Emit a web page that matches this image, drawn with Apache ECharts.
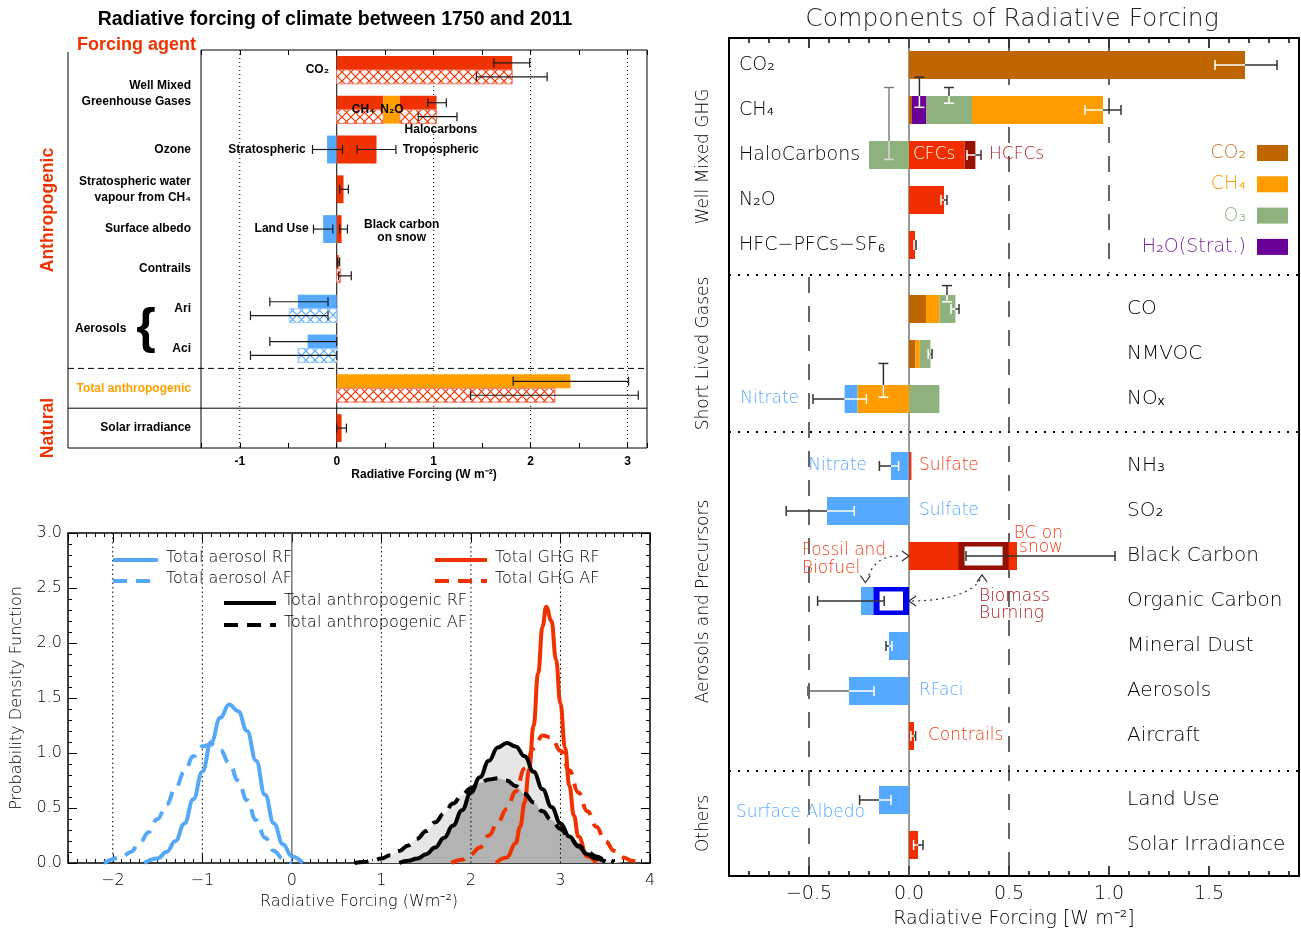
<!DOCTYPE html>
<html>
<head>
<meta charset="utf-8">
<script src="https://cdn.jsdelivr.net/npm/echarts/dist/echarts.min.js"></script>
<style>
html,body{margin:0;padding:0;background:#fff;}
#chart{width:1301px;height:933px;}
</style>
</head>
<body>
<div id="chart"></div>
<script>
// ================= Panel A : RF / ERF bars (1750-2011) =================
const aRows = ['CO2', 'WMGHG', 'Ozone', 'StratH2O', 'SurfaceAlbedo', 'Contrails', 'Ari', 'Aci', 'TotalAnthropogenic', 'Solar'];
const aDottedLines = [-1, 1, 2, 3];
const aZeroLine = [0];
// [row, start, end, fill]
const aRF = [
  [0, 0, 1.81, 'red'],
  [1, 0, 0.48, 'red'], [1, 0.48, 0.65, 'orange'], [1, 0.65, 1.03, 'red'],
  [5, 0, 0.02, 'red'],
  [6, -0.40, 0, 'blue'],
  [7, -0.30, 0, 'blue'],
  [8, 0, 2.41, 'orange']
];
const aERF = [
  [0, 0, 1.81, 'hatchRed'],
  [1, 0, 0.48, 'hatchRed'], [1, 0.48, 0.65, 'orange'], [1, 0.65, 1.03, 'hatchRed'],
  [5, 0, 0.04, 'hatchRed'],
  [6, -0.49, 0, 'hatchBlue'],
  [7, -0.40, 0, 'hatchBlue'],
  [8, 0, 2.25, 'hatchRed']
];
const aSingle = [
  [2, -0.10, 0, 'blue'], [2, 0, 0.41, 'red'],
  [3, 0, 0.07, 'red'],
  [4, -0.14, 0, 'blue'], [4, 0, 0.05, 'red'],
  [9, 0, 0.05, 'red']
];
// [row, low, high]
const aRFErr = [[0, 1.62, 1.99], [1, 0.94, 1.13], [5, 0.01, 0.03], [6, -0.69, -0.09], [7, -0.69, 0.0], [8, 1.82, 3.01]];
const aERFErr = [[0, 1.44, 2.17], [1, 0.84, 1.24], [5, 0.02, 0.15], [6, -0.89, -0.09], [7, -0.89, 0.0], [8, 1.38, 3.11]];
const aSingleErr = [[2, -0.25, 0.06], [2, 0.21, 0.61], [3, 0.03, 0.12], [4, -0.24, -0.04], [4, 0.03, 0.11], [9, 0.0, 0.10]];
const aLeftLabels = [
  [0.6, 'Well Mixed\nGreenhouse Gases', '#000'],
  [2, 'Ozone', '#000'],
  [3, 'Stratospheric water\nvapour from CH\u2084', '#000'],
  [4, 'Surface albedo', '#000'],
  [5, 'Contrails', '#000'],
  [6, 'Ari', '#000'],
  [7, 'Aci', '#000'],
  [8, 'Total anthropogenic', '#FFA000'],
  [9, 'Solar irradiance', '#000']
];
const aNotes = [
  [-0.08, 0, 'CO\u2082', 'right'],
  [0.155, 1, 'CH\u2084', 'left'],
  [0.45, 1, 'N\u2082O', 'left'],
  [0.70, 1.5, 'Halocarbons', 'left'],
  [-0.32, 2, 'Stratospheric', 'right'],
  [0.68, 2, 'Tropospheric', 'left'],
  [-0.29, 4, 'Land Use', 'right'],
  [0.67, 4.05, 'Black carbon\non snow', 'center']
];

// ================= Panel B : probability density functions =================
const bDottedLines = [-2, -1, 1, 2, 3];
const bZeroLine = [0];
const bAerosolRF = [[-1.65,0],[-1.5,0.04],[-1.4,0.10],[-1.3,0.20],[-1.2,0.36],[-1.1,0.58],[-1.0,0.83],[-0.9,1.10],[-0.8,1.32],[-0.7,1.44],[-0.6,1.38],[-0.5,1.20],[-0.4,0.93],[-0.3,0.62],[-0.2,0.36],[-0.1,0.17],[0.0,0.06],[0.12,0]];
const bAerosolAF = [[-2.1,0],[-1.9,0.05],[-1.8,0.10],[-1.7,0.18],[-1.6,0.28],[-1.5,0.40],[-1.4,0.53],[-1.3,0.68],[-1.2,0.83],[-1.1,0.97],[-1.0,1.06],[-0.9,1.08],[-0.8,1.03],[-0.7,0.91],[-0.6,0.75],[-0.5,0.57],[-0.4,0.39],[-0.3,0.23],[-0.2,0.11],[-0.1,0.04],[0.0,0.0]];
const bGhgRF = [[2.28,0],[2.4,0.05],[2.5,0.18],[2.55,0.33],[2.6,0.55],[2.65,0.85],[2.7,1.25],[2.75,1.72],[2.8,2.15],[2.84,2.33],[2.9,2.2],[2.95,1.85],[3.0,1.45],[3.05,1.05],[3.1,0.70],[3.15,0.43],[3.2,0.24],[3.3,0.06],[3.4,0]];
const bGhgAF = [[1.78,0],[1.9,0.03],[2.0,0.08],[2.1,0.14],[2.2,0.25],[2.3,0.37],[2.4,0.49],[2.5,0.65],[2.6,0.86],[2.7,1.04],[2.8,1.16],[2.9,1.14],[3.0,1.02],[3.1,0.84],[3.2,0.64],[3.3,0.47],[3.4,0.33],[3.5,0.20],[3.6,0.11],[3.7,0.05],[3.8,0.02],[3.87,0]];
const bAnthroX  = [0.6,0.7,0.8,0.9,1.0,1.1,1.2,1.3,1.4,1.5,1.6,1.7,1.8,1.9,2.0,2.1,2.2,2.3,2.4,2.5,2.6,2.7,2.8,2.9,3.0,3.1,3.2,3.3,3.4,3.5,3.6,3.7];
const bAnthroRF = [null,null,null,null,null,null,0.0,0.02,0.04,0.08,0.14,0.23,0.34,0.48,0.64,0.78,0.93,1.05,1.09,1.06,0.97,0.83,0.67,0.51,0.36,0.24,0.15,0.08,0.04,0.01,null,null];
const bAnthroAF = [null,0.0,0.01,0.02,0.04,0.07,0.11,0.16,0.22,0.29,0.37,0.45,0.54,0.62,0.68,0.73,0.76,0.77,0.75,0.70,0.63,0.55,0.47,0.39,0.31,0.23,0.16,0.10,0.06,0.03,0.01,null];
const bLegend = [
  ['Total aerosol RF', 'blue', false], ['Total aerosol AF', 'blue', true],
  ['Total GHG RF', 'red', false], ['Total GHG AF', 'red', true],
  ['Total anthropogenic RF', 'black', false], ['Total anthropogenic AF', 'black', true]
];

// ================= Panel C : components of radiative forcing =================
const cRowsGHG = ['CO\u2082', 'CH\u2084', 'HaloCarbons', 'N\u2082O', 'HFC\u2212PFCs\u2212SF\u2086'];
const cRowsSLG = ['CO', 'NMVOC', 'NO\u2093'];
const cRowsAer = ['NH\u2083', 'SO\u2082', 'Black Carbon', 'Organic Carbon', 'Mineral Dust', 'Aerosols', 'Aircraft'];
const cRowsOth = ['Land Use', 'Solar Irradiance'];
const cSectionNames = ['Well Mixed GHG', 'Short Lived Gases', 'Aerosols and Precursors', 'Others'];
// [row, start, end, component]
const cSegGHG = [
  [0, 0, 1.68, 'co2'],
  [1, 0, 0.015, 'co2'], [1, 0.015, 0.087, 'h2o'], [1, 0.087, 0.315, 'o3'], [1, 0.315, 0.97, 'ch4'],
  [2, -0.20, 0, 'o3'], [2, 0, 0.278, 'red'], [2, 0.278, 0.332, 'darkred'],
  [3, 0, 0.175, 'red'],
  [4, 0, 0.03, 'red']
];
const cSegSLG = [
  [0, 0, 0.085, 'co2'], [0, 0.085, 0.152, 'ch4'], [0, 0.152, 0.232, 'o3'],
  [1, 0, 0.032, 'co2'], [1, 0.032, 0.054, 'ch4'], [1, 0.054, 0.107, 'o3'],
  [2, -0.322, -0.257, 'blue'], [2, -0.257, 0, 'ch4'], [2, 0, 0.152, 'o3']
];
const cSegAer = [
  [0, -0.09, 0, 'blue'], [0, 0, 0.012, 'red'],
  [1, -0.41, 0, 'blue'],
  [2, 0, 0.54, 'red'],
  [3, -0.24, 0, 'blue'],
  [4, -0.10, 0, 'blue'],
  [5, -0.30, 0, 'blue'],
  [6, 0, 0.025, 'red']
];
const cSegOth = [[0, -0.15, 0, 'blue'], [1, 0, 0.045, 'red']];
// hollow boxes [row, start, end, colour]
const cBoxAer = [[2, 0.248, 0.498, 'darkred'], [3, -0.177, 0, 'navy']];
// horizontal uncertainty bars [row, low, high, style]
const cErrGHG = [[0, 1.53, 1.84, 'split'], [1, 0.88, 1.06, 'split'], [2, 0.29, 0.36, 'split'], [3, 0.16, 0.19, 'split'], [4, 0.025, 0.035, 'split']];
const cErrSLG = [[0, 0.21, 0.25, 'split'], [1, 0.096, 0.115, 'split'], [2, -0.48, -0.213, 'split']];
const cErrAer = [[0, -0.148, -0.052, 'split'], [1, -0.614, -0.274, 'split'], [2, 0.285, 1.03, 'black'], [3, -0.457, -0.124, 'black'], [4, -0.115, -0.085, 'split'], [5, -0.506, -0.175, 'grey'], [6, 0.01, 0.033, 'split']];
const cErrOth = [[0, -0.247, -0.09, 'split'], [1, 0.023, 0.07, 'split']];
// vertical uncertainty marks [row, x, top offset (rows), bottom offset (rows), style]
const cVbarGHG = [[1, 0.052, -0.73, -0.06, 'bw'], [1, 0.20, -0.50, -0.15, 'bw'], [2, -0.10, -1.50, 0.10, 'grey']];
const cVbarSLG = [[0, 0.19, -0.52, -0.16, 'bw'], [2, -0.128, -0.79, -0.04, 'bw']];
const cRefDashed = [[-0.5, 1, 4], [0.5, 0, 4], [1.0, 0, 1]]; // [x, from boundary, to boundary]
const cLegend = [['CO\u2082', 'co2', '#C8792A'], ['CH\u2084', 'ch4', '#FF9C00'], ['O\u2083', 'o3', '#8FB17E'], ['H\u2082O(Strat.)', 'h2o', '#7A20A8']];
const cNotes = [
  [0, 2, 0.02, 'CFCs', '#ffffff', 'left', 18],
  [0, 2, 0.40, 'HCFCs', '#B22222', 'left', 18],
  [1, 2, -0.55, 'Nitrate', '#55A9FF', 'right', 18],
  [2, 0, -0.21, 'Nitrate', '#55A9FF', 'right', 18],
  [2, 0, 0.05, 'Sulfate', '#F03C14', 'left', 18],
  [2, 1, 0.05, 'Sulfate', '#55A9FF', 'left', 18],
  [2, 1.66, 0.77, 'BC on\nsnow', '#F03C14', 'right', 14],
  [2, 2.09, -0.535, 'Fossil and\nBiofuel', '#F03C14', 'left', 18],
  [2, 3.10, 0.35, 'Biomass\nBurning', '#A82020', 'left', 17],
  [2, 5, 0.05, 'RFaci', '#55A9FF', 'left', 18],
  [2, 6, 0.095, 'Contrails', '#F03C14', 'left', 18],
  [3, 0.29, -0.865, 'Surface Albedo', '#55A9FF', 'left', 18]
];
const cArrowCurves = [
  [[-0.054, 2.0], [-0.177, 2.0], [-0.207, 2.52]],
  [[0.356, 2.52], [0.29, 2.98], [0.015, 3.0]]
];
const cArrowHeads = [[0.0, 2.0, 'right'], [-0.218, 2.59, 'down'], [0.365, 2.42, 'up'], [0.0, 3.0, 'left']];

// ================= styling =================
const FA = "'Liberation Sans', Arial, Helvetica, sans-serif";
const FI = "'DejaVu Sans', sans-serif";
const WI = 200;
const COL = {red: '#F03200', orange: '#FFA000', blue: '#55AAFF'};
const CC = {co2: '#C06600', ch4: '#FF9C00', o3: '#8FB17E', h2o: '#6A0098', red: '#F02E00', darkred: '#961000', blue: '#55A9FF', navy: '#0000F0'};
const BCOL = {blue: '#55A8F8', red: '#F03200', black: '#000000'};

function makeHatch(col) {
  const s = 9, cv = document.createElement('canvas');
  cv.width = s; cv.height = s;
  const g = cv.getContext('2d');
  g.fillStyle = '#fff'; g.fillRect(0, 0, s, s);
  g.strokeStyle = col; g.lineWidth = 1.2;
  g.beginPath(); g.moveTo(-1, -1); g.lineTo(s + 1, s + 1); g.moveTo(s + 1, -1); g.lineTo(-1, s + 1); g.stroke();
  return cv;
}
const hatchRed = makeHatch('#F03200');
const hatchBlue = makeHatch('#55AAFF');

const chart = echarts.init(document.getElementById('chart'));

// ---------- layout ----------
const A = {left: 201, top: 50, width: 446, height: 398, outer: 68};
const B = {left: 68, top: 533, width: 582, height: 330};
const C = {left: 729, top: 38, width: 570, height: 838, pitch: 45};
const cSecTop = [42.5, 286.5, 443.5, 777.5];
const cSepY = [275, 432, 771];
const C_BAR = 28 / 45;

const cSections = [
  {rows: cRowsGHG, segs: cSegGHG, errs: cErrGHG, vbars: cVbarGHG, boxes: [], margin: 10, fs: 19},
  {rows: cRowsSLG, segs: cSegSLG, errs: cErrSLG, vbars: cVbarSLG, boxes: [], margin: 398, fs: 20},
  {rows: cRowsAer, segs: cSegAer, errs: cErrAer, vbars: [], boxes: cBoxAer, margin: 398, fs: 20},
  {rows: cRowsOth, segs: cSegOth, errs: cErrOth, vbars: [], boxes: [], margin: 398, fs: 20}
];

function tick(len, w) { return {show: true, inside: true, length: len, lineStyle: {color: '#000', width: w || 1}}; }
const noLine = {show: false, onZero: false};
const noShow = {show: false};

const grids = [
  {left: A.left, top: A.top, width: A.width, height: A.height, show: true, borderColor: '#000', borderWidth: 1, outerBoundsMode: 'none'},
  {left: B.left, top: B.top, width: B.width, height: B.height, show: true, borderColor: '#000', borderWidth: 1.5, outerBoundsMode: 'none'},
  {left: B.left, top: B.top, width: B.width, height: B.height, outerBoundsMode: 'none'},
  {left: C.left, top: C.top, width: C.width, height: C.height, show: true, borderColor: '#000', borderWidth: 2, outerBoundsMode: 'none'},
  {left: C.left, top: C.top, width: C.width, height: C.height, outerBoundsMode: 'none'}
];
cSections.forEach((s, i) => grids.push({left: C.left, width: C.width, top: cSecTop[i], height: s.rows.length * C.pitch, outerBoundsMode: 'none'}));

const isInt = v => Math.abs(v - Math.round(v)) < 1e-9;
const minus = v => (v < 0 ? '\u2212' : '') + Math.abs(v);

const xAxes = [
  // 0,1 panel A
  {type: 'value', gridIndex: 0, min: -1.4, max: 3.2, splitNumber: 9, position: 'bottom', axisLine: noLine, splitLine: noShow,
   axisTick: tick(5), axisLabel: {fontFamily: FA, fontWeight: 'bold', fontSize: 12, color: '#000', margin: 8, formatter: v => isInt(v) ? String(Math.round(v)) : ''},
   name: 'Radiative Forcing (W m\u207B\u00B2)', nameLocation: 'middle', nameGap: 21, nameTextStyle: {fontFamily: FA, fontWeight: 'bold', fontSize: 12, color: '#000'}},
  {type: 'value', gridIndex: 0, min: -1.4, max: 3.2, splitNumber: 9, position: 'top', axisLine: noLine, splitLine: noShow, axisTick: tick(5), axisLabel: noShow},
  // 2,3 panel B
  {type: 'value', gridIndex: 1, min: -2.5, max: 4, splitNumber: 7, position: 'bottom', axisLine: noLine, splitLine: noShow, axisTick: tick(9),
   axisLabel: {fontFamily: FI, fontWeight: WI, fontSize: 16, color: '#000', margin: 10, formatter: v => isInt(v) ? minus(Math.round(v)) : ''},
   name: 'Radiative Forcing (Wm\u207B\u00B2)', nameLocation: 'middle', nameGap: 31, nameTextStyle: {fontFamily: FI, fontWeight: WI, fontSize: 16, color: '#000'}},
  {type: 'value', gridIndex: 1, min: -2.5, max: 4, splitNumber: 7, position: 'top', axisLine: noLine, splitLine: noShow, axisTick: tick(9), axisLabel: noShow},
  // 4,5 panel B minor
  {type: 'value', gridIndex: 2, min: -2.5, max: 4, interval: 0.1, position: 'bottom', axisLine: noLine, splitLine: noShow, axisTick: tick(4), axisLabel: noShow},
  {type: 'value', gridIndex: 2, min: -2.5, max: 4, interval: 0.1, position: 'top', axisLine: noLine, splitLine: noShow, axisTick: tick(4), axisLabel: noShow},
  // 6,7 panel C frame
  {type: 'value', gridIndex: 3, min: -0.9, max: 1.95, splitNumber: 6, position: 'bottom', axisLine: noLine, splitLine: noShow, axisTick: tick(10, 1.5),
   axisLabel: {fontFamily: FI, fontWeight: WI, fontSize: 19, color: '#000', margin: 9, showMinLabel: false, showMaxLabel: false,
     formatter: v => isInt(v * 2) ? minus(Math.round(v * 10) / 10).replace(/^(\u2212?\d+)$/, '$1.0') : ''},
   name: 'Radiative Forcing [W m\u207B\u00B2]', nameLocation: 'middle', nameGap: 34, nameTextStyle: {fontFamily: FI, fontWeight: WI, fontSize: 19, color: '#000'}},
  {type: 'value', gridIndex: 3, min: -0.9, max: 1.95, splitNumber: 6, position: 'top', axisLine: noLine, splitLine: noShow, axisTick: tick(10, 1.5), axisLabel: noShow},
  // 8,9 panel C minor
  {type: 'value', gridIndex: 4, min: -0.9, max: 1.95, interval: 0.1, position: 'bottom', axisLine: noLine, splitLine: noShow, axisTick: tick(5, 1.5), axisLabel: noShow},
  {type: 'value', gridIndex: 4, min: -0.9, max: 1.95, interval: 0.1, position: 'top', axisLine: noLine, splitLine: noShow, axisTick: tick(5, 1.5), axisLabel: noShow}
];
cSections.forEach((s, i) => xAxes.push({type: 'value', gridIndex: 5 + i, min: -0.9, max: 1.95, show: false, axisLine: noLine}));

const yAxes = [
  {type: 'category', gridIndex: 0, data: aRows, inverse: true, axisLine: noLine, axisTick: noShow, axisLabel: noShow, splitLine: noShow},
  {type: 'value', gridIndex: 1, min: 0, max: 3, interval: 0.5, position: 'left', axisLine: noLine, splitLine: noShow, axisTick: tick(9),
   minorTick: {show: true, splitNumber: 5, length: 4, lineStyle: {color: '#000'}},
   axisLabel: {fontFamily: FI, fontWeight: WI, fontSize: 16, color: '#000', margin: 6, formatter: v => v.toFixed(1)},
   name: 'Probability Density Function', nameLocation: 'middle', nameGap: 43, nameRotate: 90, nameTextStyle: {fontFamily: FI, fontWeight: WI, fontSize: 16, color: '#000'}},
  {type: 'value', gridIndex: 1, min: 0, max: 3, interval: 0.5, position: 'right', axisLine: noLine, splitLine: noShow, axisTick: tick(9),
   minorTick: {show: true, splitNumber: 5, length: 4, lineStyle: {color: '#000'}}, axisLabel: noShow},
  {type: 'value', gridIndex: 2, min: 0, max: 3, show: false, axisLine: noLine},
  {type: 'value', gridIndex: 3, min: 0, max: 1, show: false, axisLine: noLine},
  {type: 'value', gridIndex: 4, min: 0, max: 1, show: false, axisLine: noLine}
];
cSections.forEach((s, i) => yAxes.push({type: 'category', gridIndex: 5 + i, data: s.rows, inverse: true,
  axisLine: noLine, axisTick: noShow, splitLine: noShow,
  axisLabel: {inside: true, margin: s.margin, align: 'left', interval: 0, fontFamily: FI, fontWeight: WI, fontSize: s.fs, color: '#000'}}));

// ---------- series ----------
const series = [];
function vLineSeries(xi, yi, values, style, z) {
  return {type: 'custom', xAxisIndex: xi, yAxisIndex: yi, z, silent: true, animation: false,
    data: values.map(v => [v, 0]), encode: {x: 0, y: 1},
    renderItem: (params, api) => {
      const cs = params.coordSys;
      const x = api.coord([api.value(0), 0])[0];
      return {type: 'line', shape: {x1: x, y1: cs.y, x2: x, y2: cs.y + cs.height}, style};
    }};
}
// Panel A
series.push(vLineSeries(0, 0, aDottedLines, {stroke: '#000', lineWidth: 1, lineDash: [1, 3]}, 1));
series.push(vLineSeries(0, 0, aZeroLine, {stroke: '#000', lineWidth: 1}, 1));
function aStyle(k) {
  if (k === 'hatchRed') return {fill: {image: hatchRed, repeat: 'repeat'}, stroke: '#F57A66', lineWidth: 1};
  if (k === 'hatchBlue') return {fill: {image: hatchBlue, repeat: 'repeat'}, stroke: '#9CCBFF', lineWidth: 1};
  return {fill: COL[k]};
}
function aBarSeries(arr, slot) {
  return {type: 'custom', xAxisIndex: 0, yAxisIndex: 0, z: 3, silent: true, animation: false,
    data: arr.map(d => [d[1], d[0], d[2]]), encode: {x: [0, 2], y: 1},
    renderItem: (params, api) => {
      const d = arr[params.dataIndex];
      const p0 = api.coord([d[1], d[0]]), p1 = api.coord([d[2], d[0]]);
      const h = api.size([0, 1])[1] * 0.35;
      let y0 = p0[1] - h, y1 = p0[1] + h;
      if (slot === 'rf') y1 = p0[1];
      if (slot === 'erf') y0 = p0[1];
      return {type: 'rect', shape: {x: Math.min(p0[0], p1[0]), y: y0, width: Math.abs(p1[0] - p0[0]), height: y1 - y0}, style: aStyle(d[3])};
    }};
}
function aErrSeries(arr, slot) {
  return {type: 'custom', xAxisIndex: 0, yAxisIndex: 0, z: 4, silent: true, animation: false,
    data: arr.map(d => [d[1], d[0], d[2]]), encode: {x: [0, 2], y: 1},
    renderItem: (params, api) => {
      const d = arr[params.dataIndex];
      const p0 = api.coord([d[1], d[0]]), p1 = api.coord([d[2], d[0]]);
      const h = api.size([0, 1])[1] * 0.35;
      const y = p0[1] + (slot === 'rf' ? -h / 2 : slot === 'erf' ? h / 2 : 0);
      const st = {stroke: '#1a1a1a', lineWidth: 1.2};
      return {type: 'group', children: [
        {type: 'line', shape: {x1: p0[0], y1: y, x2: p1[0], y2: y}, style: st},
        {type: 'line', shape: {x1: p0[0], y1: y - 4.5, x2: p0[0], y2: y + 4.5}, style: st},
        {type: 'line', shape: {x1: p1[0], y1: y - 4.5, x2: p1[0], y2: y + 4.5}, style: st}
      ]};
    }};
}
series.push(aBarSeries(aRF, 'rf'), aBarSeries(aERF, 'erf'), aBarSeries(aSingle, 'full'));
series.push(aErrSeries(aRFErr, 'rf'), aErrSeries(aERFErr, 'erf'), aErrSeries(aSingleErr, 'full'));

// Panel B
const SM = 0.45;
const toZero = v => (v == null ? 0 : v);
function bArea(vals, color, z) {
  return {type: 'line', xAxisIndex: 2, yAxisIndex: 1, z, silent: true, animation: false, symbol: 'none', smooth: SM, smoothMonotone: 'x',
    data: bAnthroX.map((x, i) => [x, vals[i]]), lineStyle: {width: 0, opacity: 0}, areaStyle: {color, opacity: 1}};
}
series.push(bArea(bAnthroRF.map(toZero), '#E6E6E6', 1));
series.push(bArea(bAnthroAF.map(toZero), '#E6E6E6', 1));
series.push(bArea(bAnthroRF.map((v, i) => Math.min(toZero(v), toZero(bAnthroAF[i]))), '#B3B3B3', 1));
series.push(vLineSeries(2, 1, bDottedLines, {stroke: '#000', lineWidth: 1, lineDash: [1.5, 3]}, 2));
series.push(vLineSeries(2, 1, bZeroLine, {stroke: '#555', lineWidth: 1.2}, 2));
function bLine(data, color, dashed) {
  return {type: 'line', xAxisIndex: 2, yAxisIndex: 1, z: 3, silent: true, animation: false, symbol: 'none', smooth: SM, smoothMonotone: 'x',
    data, connectNulls: false, lineStyle: {color, width: 4, type: dashed ? [14, 9] : 'solid', cap: 'butt'}};
}
series.push(bLine(bGhgAF, BCOL.red, true), bLine(bGhgRF, BCOL.red, false));
series.push(bLine(bAnthroX.map((x, i) => [x, bAnthroAF[i]]), BCOL.black, true));
series.push(bLine(bAnthroX.map((x, i) => [x, bAnthroRF[i]]), BCOL.black, false));
series.push(bLine(bAerosolAF, BCOL.blue, true), bLine(bAerosolRF, BCOL.blue, false));

// Panel C
cSections.forEach((sec, s) => {
  const xi = 10 + s, yi = 6 + s;
  const segs = sec.segs;
  series.push({type: 'custom', xAxisIndex: xi, yAxisIndex: yi, z: 3, silent: true, animation: false,
    data: segs.map(d => [d[1], d[0], d[2]]), encode: {x: [0, 2], y: 1},
    renderItem: (params, api) => {
      const d = segs[params.dataIndex];
      const p0 = api.coord([d[1], d[0]]), p1 = api.coord([d[2], d[0]]);
      const h = api.size([0, 1])[1] * C_BAR / 2;
      return {type: 'rect', shape: {x: Math.min(p0[0], p1[0]), y: p0[1] - h, width: Math.abs(p1[0] - p0[0]), height: 2 * h}, style: {fill: CC[d[3]]}};
    }});
  if (sec.boxes.length) {
    const boxes = sec.boxes;
    series.push({type: 'custom', xAxisIndex: xi, yAxisIndex: yi, z: 4, silent: true, animation: false,
      data: boxes.map(d => [d[1], d[0], d[2]]), encode: {x: [0, 2], y: 1},
      renderItem: (params, api) => {
        const d = boxes[params.dataIndex];
        const p0 = api.coord([d[1], d[0]]), p1 = api.coord([d[2], d[0]]);
        const h = api.size([0, 1])[1] * C_BAR / 2;
        const x0 = Math.min(p0[0], p1[0]), w = Math.abs(p1[0] - p0[0]);
        return {type: 'group', children: [
          {type: 'rect', shape: {x: x0, y: p0[1] - h, width: w, height: 2 * h}, style: {fill: CC[d[3]]}},
          {type: 'rect', shape: {x: x0 + 6, y: p0[1] - h + 4.5, width: w - 12, height: 2 * h - 9}, style: {fill: '#fff'}}
        ]};
      }});
  }
  const errs = sec.errs;
  series.push({type: 'custom', xAxisIndex: xi, yAxisIndex: yi, z: 5, silent: true, animation: false,
    data: errs.map(d => [d[1], d[0], d[2]]), encode: {x: [0, 2], y: 1},
    renderItem: (params, api) => {
      const e = errs[params.dataIndex];
      let bmin = 0, bmax = 0;
      segs.forEach(sg => { if (sg[0] === e[0]) { bmin = Math.min(bmin, sg[1]); bmax = Math.max(bmax, sg[2]); } });
      const y = api.coord([0, e[0]])[1];
      const xl = api.coord([e[1], e[0]])[0], xh = api.coord([e[2], e[0]])[0];
      const xb0 = api.coord([bmin, e[0]])[0], xb1 = api.coord([bmax, e[0]])[0];
      const dark = e[3] === 'grey' ? '#666' : '#333', light = '#ffffff';
      const kids = [];
      const seg = (a, b, col) => { if (b - a > 0.3) kids.push({type: 'line', shape: {x1: a, y1: y, x2: b, y2: y}, style: {stroke: col, lineWidth: 1.5}}); };
      if (e[3] === 'black') seg(xl, xh, dark);
      else {
        seg(xl, Math.min(xh, xb0), dark);
        seg(Math.max(xl, xb0), Math.min(xh, xb1), light);
        seg(Math.max(xl, xb1), xh, dark);
      }
      const capCol = x => (e[3] !== 'black' && x > xb0 + 0.5 && x < xb1 - 0.5) ? light : dark;
      [xl, xh].forEach(x => kids.push({type: 'line', shape: {x1: x, y1: y - 5, x2: x, y2: y + 5}, style: {stroke: capCol(x), lineWidth: 1.5}}));
      return {type: 'group', children: kids};
    }});
  if (sec.vbars.length) {
    const vb = sec.vbars;
    series.push({type: 'custom', xAxisIndex: xi, yAxisIndex: yi, z: 5, silent: true, animation: false,
      data: vb.map(d => [d[1], d[0]]), encode: {x: 0, y: 1},
      renderItem: (params, api) => {
        const v = vb[params.dataIndex];
        const c = api.coord([v[1], v[0]]);
        const band = api.size([0, 1])[1];
        const yt = c[1] + v[2] * band, yb = c[1] + v[3] * band;
        const barTop = c[1] - band * C_BAR / 2;
        const out = v[4] === 'grey' ? '#808080' : '#333', inn = v[4] === 'grey' ? '#d8d8d8' : '#ffffff';
        const kids = [];
        if (Math.min(yb, barTop) > yt) kids.push({type: 'line', shape: {x1: c[0], y1: yt, x2: c[0], y2: Math.min(yb, barTop)}, style: {stroke: out, lineWidth: 1.5}});
        if (yb > Math.max(yt, barTop)) kids.push({type: 'line', shape: {x1: c[0], y1: Math.max(yt, barTop), x2: c[0], y2: yb}, style: {stroke: inn, lineWidth: 1.5}});
        [yt, yb].forEach(yy => kids.push({type: 'line', shape: {x1: c[0] - 5, y1: yy, x2: c[0] + 5, y2: yy}, style: {stroke: yy < barTop ? out : inn, lineWidth: 1.5}}));
        return {type: 'group', children: kids};
      }});
  }
});

chart.setOption({
  animation: false,
  backgroundColor: '#ffffff',
  grid: grids,
  xAxis: xAxes,
  yAxis: yAxes,
  series: series
});

// ---------- annotations (placed through the axes) ----------
function pix(xi, yi, x, row) {
  const r0 = Math.floor(row), f = row - r0;
  const a = chart.convertToPixel({xAxisIndex: xi, yAxisIndex: yi}, [x, r0]);
  if (f < 1e-9) return a;
  const b = chart.convertToPixel({xAxisIndex: xi, yAxisIndex: yi}, [x, r0 + 1]);
  return [a[0], a[1] + f * (b[1] - a[1])];
}
function T(x, y, text, st, extra) {
  const style = Object.assign({text, fontFamily: FI, fontWeight: WI, fontSize: 17, fill: '#000', align: 'left', verticalAlign: 'middle'}, st || {});
  style.textAlign = style.align; style.textVerticalAlign = style.verticalAlign;
  return Object.assign({type: 'text', x, y, z: 20, silent: true, style}, extra || {});
}
function Ln(x1, y1, x2, y2, st, z) {
  return {type: 'line', z: z == null ? 1 : z, silent: true, shape: {x1, y1, x2, y2}, style: Object.assign({stroke: '#000', lineWidth: 1}, st || {})};
}
const G = [];
// Panel A frame pieces
const aPitch = A.height / aRows.length;
G.push(Ln(A.outer, A.top + 2, A.outer, A.top + A.height, {lineWidth: 1}));
G.push(Ln(A.outer, A.top + A.height, A.left, A.top + A.height, {lineWidth: 1}));
G.push(Ln(A.outer, A.top + 8 * aPitch, A.left + A.width, A.top + 8 * aPitch, {lineWidth: 1, lineDash: [6, 4]}));
G.push(Ln(A.outer, A.top + 9 * aPitch, A.left + A.width, A.top + 9 * aPitch, {lineWidth: 1}));
const bA = {fontFamily: FA, fontWeight: 'bold', fontSize: 12};
G.push(T(335, 20, 'Radiative forcing of climate between 1750 and 2011', Object.assign({}, bA, {fontSize: 19.5, align: 'center'})));
G.push(T(77, 45, 'Forcing agent', Object.assign({}, bA, {fontSize: 18, fill: '#F03200'})));
G.push(T(48, 210, 'Anthropogenic', Object.assign({}, bA, {fontSize: 17.5, fill: '#F03200', align: 'center'}), {rotation: Math.PI / 2}));
G.push(T(48, 428, 'Natural', Object.assign({}, bA, {fontSize: 17.5, fill: '#F03200', align: 'center'}), {rotation: Math.PI / 2}));
aLeftLabels.forEach(l => {
  const p = pix(0, 0, 0, l[0]);
  G.push(T(A.left - 10, p[1], l[1], Object.assign({}, bA, {fill: l[2], align: 'right', lineHeight: 16})));
});
{
  const p6 = pix(0, 0, 0, 6.5);
  G.push(T(75, p6[1], 'Aerosols', Object.assign({}, bA, {align: 'left'})));
  G.push(T(146, p6[1] + 1, '{', Object.assign({}, bA, {fontSize: 50, align: 'center'})));
}
aNotes.forEach(n => {
  const p = pix(0, 0, n[0], n[1]);
  G.push(T(p[0], p[1], n[2], Object.assign({}, bA, {align: n[3], lineHeight: 13})));
});

// Panel B legend
const legPos = [[113, 560], [113, 581], [435, 560], [435, 581], [224, 603], [224, 625]];
bLegend.forEach((l, i) => {
  const [x, y] = legPos[i];
  const w = i < 2 ? 45 : 52;
  G.push(Ln(x, y, x + w, y, {stroke: BCOL[l[1]], lineWidth: 4, lineDash: l[2] ? [14, 9] : null}, 6));
  G.push(T(x + w + 8, y - 2, l[0], {fontSize: 16}));
});

// Panel C frame decorations
const xC = v => chart.convertToPixel({xAxisIndex: 6}, v);
const cBounds = [C.top, cSepY[0], cSepY[1], cSepY[2], C.top + C.height];
cSepY.forEach(y => G.push(Ln(C.left, y, C.left + C.width, y, {lineWidth: 2, lineDash: [2, 7]}, 1)));
cRefDashed.forEach(r => { const x = xC(r[0]); G.push(Ln(x, cBounds[r[1]] + 2, x, cBounds[r[2]] - 2, {stroke: '#333', lineWidth: 1.5, lineDash: [16, 13]}, 1)); });
G.push(Ln(xC(0), C.top, xC(0), C.top + C.height, {stroke: '#555', lineWidth: 1.2}, 1));
cSectionNames.forEach((n, i) => {
  G.push(T(704, (cBounds[i] + cBounds[i + 1]) / 2, n, {fontSize: 17, align: 'center'}, {rotation: Math.PI / 2}));
});
G.push(T(1012, 19, 'Components of Radiative Forcing', {fontSize: 25, align: 'center', fill: '#222'}));
cLegend.forEach((l, i) => {
  const y = 153 + i * 31.3;
  G.push(T(1246, y, l[0], {fontSize: 19, align: 'right', fill: l[2]}));
  G.push({type: 'rect', z: 20, silent: true, shape: {x: 1257, y: y - 8, width: 31, height: 16}, style: {fill: CC[l[1]]}});
});
cNotes.forEach(n => {
  const p = pix(10 + n[0], 6 + n[0], n[2], n[1]);
  G.push(T(p[0], p[1], n[3], {fontSize: 17, fill: n[4], align: n[5], lineHeight: n[6]}));
});
cArrowCurves.forEach(c => {
  const a = pix(12, 8, c[0][0], c[0][1]), m = pix(12, 8, c[1][0], c[1][1]), b = pix(12, 8, c[2][0], c[2][1]);
  G.push({type: 'bezierCurve', z: 20, silent: true, shape: {x1: a[0], y1: a[1], cpx1: m[0], cpy1: m[1], x2: b[0], y2: b[1]},
    style: {stroke: '#333', lineWidth: 1.2, lineDash: [2, 4], fill: 'none'}});
});
cArrowHeads.forEach(h => {
  const p = pix(12, 8, h[0], h[1]);
  const s = 7;
  let pts;
  if (h[2] === 'right') pts = [[p[0] - s, p[1] - 5], p, [p[0] - s, p[1] + 5]];
  if (h[2] === 'left') pts = [[p[0] + s, p[1] - 5], p, [p[0] + s, p[1] + 5]];
  if (h[2] === 'up') pts = [[p[0] - 5, p[1] + s], p, [p[0] + 5, p[1] + s]];
  if (h[2] === 'down') pts = [[p[0] - 5, p[1] - s], p, [p[0] + 5, p[1] - s]];
  G.push({type: 'polyline', z: 20, silent: true, shape: {points: pts}, style: {stroke: '#333', lineWidth: 1.2, fill: 'none'}});
});

chart.setOption({graphic: {elements: G}});
</script>
</body>
</html>
